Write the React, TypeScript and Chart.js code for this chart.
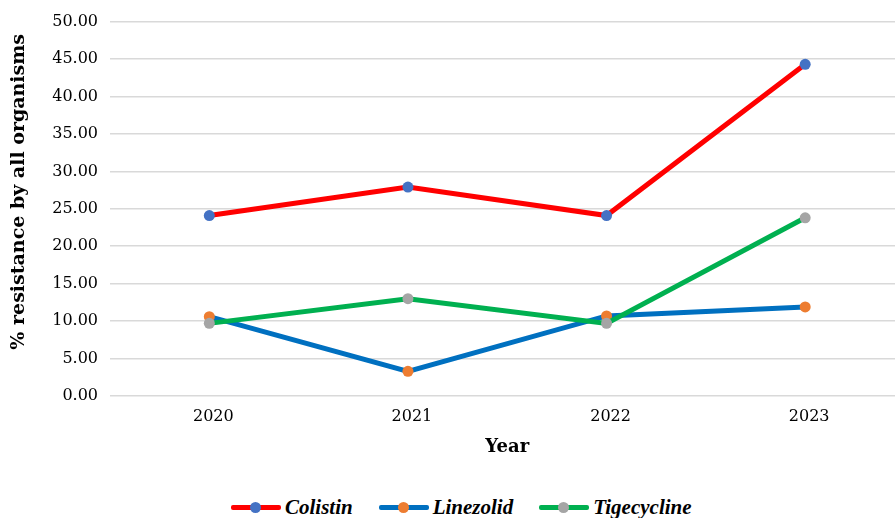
import React, { useEffect, useRef } from "react";
import { Chart, registerables } from "chart.js";

Chart.register(...registerables);

const years = ["2020", "2021", "2022", "2023"];
const colistin = [24.1, 27.9, 24.1, 44.3];
const linezolid = [10.6, 3.3, 10.7, 11.9];
const tigecycline = [9.7, 13.0, 9.7, 23.8];

const seriesNames = ["Colistin", "Linezolid", "Tigecycline"];
const lineColors = ["#FF0000", "#0070C0", "#00B050"];
const markerColors = ["#4472C4", "#ED7D31", "#A5A5A5"];

const yTitle = "% resistance by all organisms";
const FONT = "'DejaVu Serif', 'Liberation Serif', serif";
const LEGEND_FONT = "'Liberation Serif', 'Times New Roman', serif";

// Vertical axis title, drawn rotated beside the tick labels and sitting a little above centre
const yTitlePlugin = {
  id: "yTitle",
  afterDraw(chart: any) {
    const { ctx, chartArea } = chart;
    ctx.save();
    ctx.translate(19, (chartArea.top + chartArea.bottom) / 2 - 17);
    ctx.rotate(-Math.PI / 2);
    ctx.font = `bold 19px ${FONT}`;
    ctx.fillStyle = "#000";
    ctx.textAlign = "center";
    ctx.textBaseline = "middle";
    ctx.fillText(yTitle, 0, 0);
    ctx.restore();
  },
};

export default function App() {
  const canvasRef = useRef<HTMLCanvasElement | null>(null);

  useEffect(() => {
    const canvas = canvasRef.current;
    if (!canvas) return;
    const values = [colistin, linezolid, tigecycline];
    const chart = new Chart(canvas, {
      type: "line",
      data: {
        labels: years,
        datasets: values.map((v, i) => ({
          label: seriesNames[i],
          data: v,
          borderColor: lineColors[i],
          backgroundColor: markerColors[i],
          borderWidth: 5,
          pointRadius: 5.5,
          pointBackgroundColor: markerColors[i],
          pointBorderColor: markerColors[i],
          pointBorderWidth: 0,
          tension: 0,
          order: 3 - i,
        })),
      },
      options: {
        responsive: false,
        animation: false,
        devicePixelRatio: 1,
        layout: { padding: { top: 20, right: 5, left: 0, bottom: 0 } },
        plugins: {
          legend: { display: false },
          tooltip: { enabled: false },
        },
        scales: {
          x: {
            type: "category",
            offset: true,
            grid: { display: false, drawTicks: false },
            border: { display: false },
            ticks: {
              color: "#000",
              font: { family: FONT, size: 16 },
              padding: 11,
              labelOffset: 4,
            },
            title: {
              display: true,
              text: "Year",
              color: "#000",
              font: { family: FONT, size: 18, weight: "bold" },
              padding: { top: 0, bottom: 12 },
            },
            afterFit: (scale: any) => {
              scale.height = 74;
            },
          },
          y: {
            min: 0,
            max: 50,
            grid: { color: "#D9D9D9", lineWidth: 1.5, drawTicks: false },
            border: { display: false },
            ticks: {
              stepSize: 5,
              color: "#000",
              font: { family: FONT, size: 16 },
              padding: 12,
              callback: (v: any) => Number(v).toFixed(2),
            },
            afterFit: (scale: any) => {
              scale.width = 110;
            },
          },
        },
      },
      plugins: [yTitlePlugin],
    });
    return () => chart.destroy();
  }, []);

  return (
    <div
      style={{
        position: "fixed",
        left: 0,
        top: 0,
        width: 895,
        height: 518,
        overflow: "hidden",
        background: "#fff",
      }}
    >
      <canvas ref={canvasRef} width={910} height={470} style={{ display: "block" }} />
      <div
        style={{
          position: "absolute",
          left: 231,
          top: 494,
          display: "flex",
          alignItems: "center",
          fontFamily: LEGEND_FONT,
          fontSize: 21,
          fontWeight: "bold",
          fontStyle: "italic",
          color: "#000",
          whiteSpace: "nowrap",
        }}
      >
        {seriesNames.map((name, i) => (
          <div
            key={name}
            style={{ display: "flex", alignItems: "center", marginRight: i < 2 ? 26 : 0 }}
          >
            <div style={{ position: "relative", width: 50, height: 26, marginRight: 4 }}>
              <div
                style={{
                  position: "absolute",
                  left: 0,
                  top: 11,
                  width: 50,
                  height: 5,
                  borderRadius: 2,
                  background: lineColors[i],
                }}
              />
              <div
                style={{
                  position: "absolute",
                  left: 19,
                  top: 8,
                  width: 11,
                  height: 11,
                  borderRadius: "50%",
                  background: markerColors[i],
                }}
              />
            </div>
            <span>{name}</span>
          </div>
        ))}
      </div>
    </div>
  );
}
